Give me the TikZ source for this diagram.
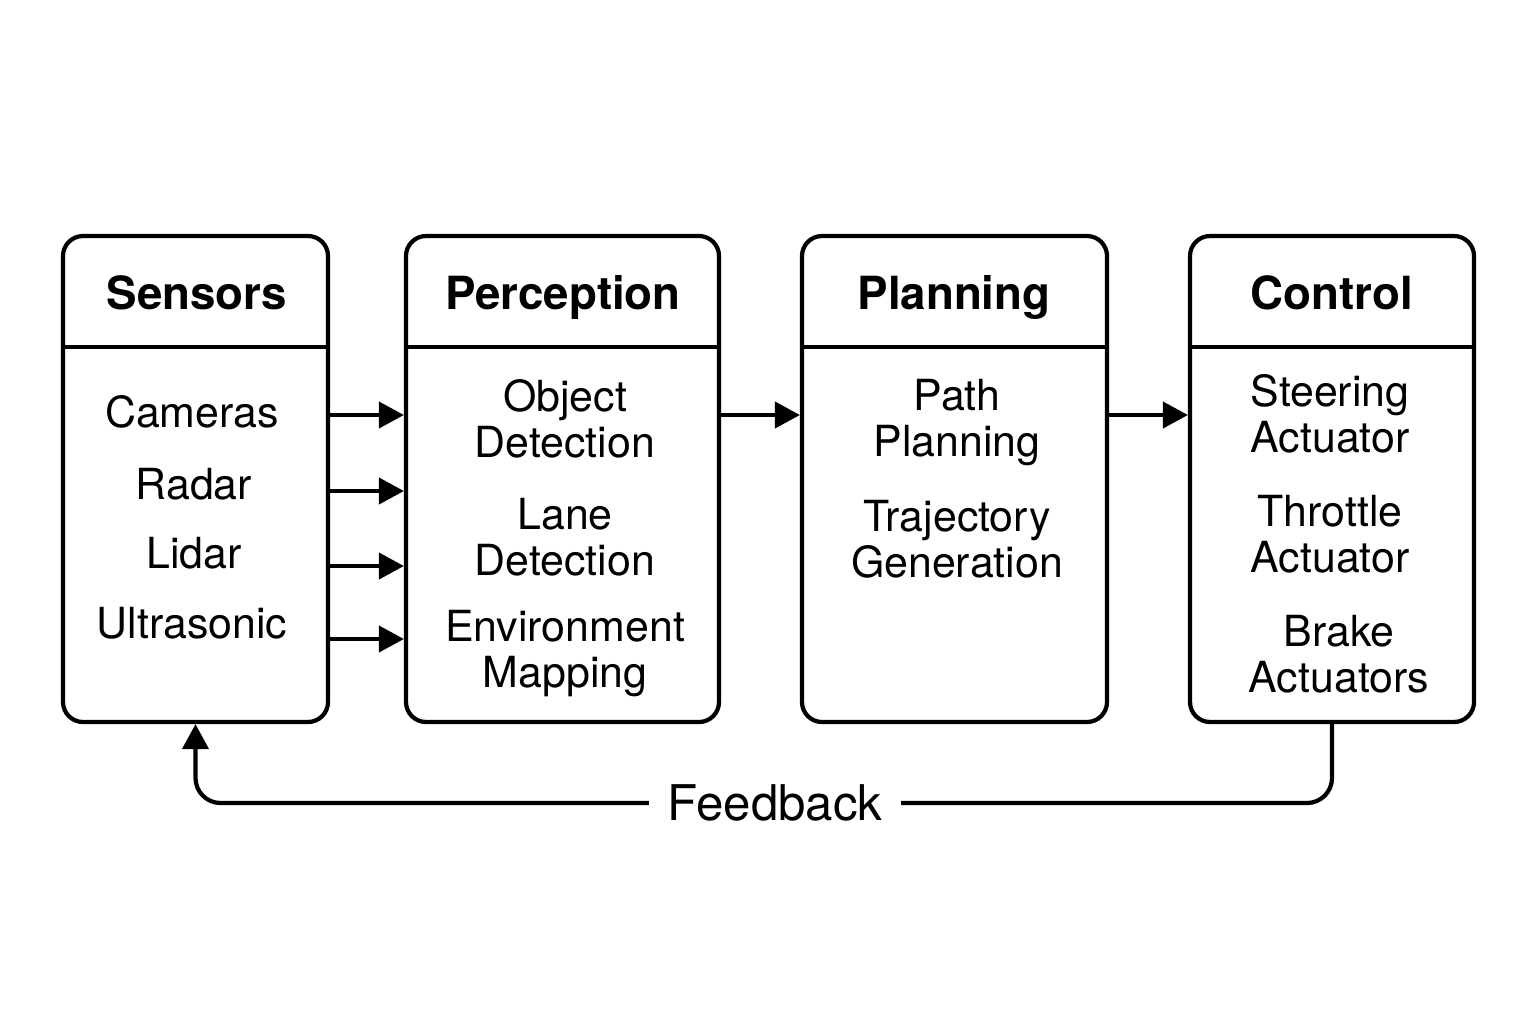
\documentclass[tikz,border=0pt]{standalone}
\usepackage{fontspec}
\setmainfont{TeX Gyre Heros}
\usetikzlibrary{arrows.meta}

\tikzset{
	bloque/.style = {draw, line width = 1.2pt, rounded corners = 0.2cm,
		minimum width = #1, minimum height = 4.86cm, inner sep = 0pt},
	titulo/.style = {anchor = base, font = \bfseries\fontsize{13}{15}\selectfont},
	item/.style = {align = center, inner sep = 0pt,
		font = \fontsize{12.2}{13.1}\selectfont},
	flecha/.style = {line width = 1.2pt,
		-{Triangle[length = 0.25cm, width = 0.26cm]}},
}

\begin{document}
\begin{tikzpicture}

	% márgenes del dibujo
	\useasboundingbox (0,0) rectangle (15.36,-10.24);

	% bloques con su cabecera
	\foreach \n/\x/\w/\t/\tx in {
		sensors/1.955/2.65/Sensors/1.97,
		perception/5.625/3.13/Perception/5.63,
		planning/9.545/3.05/Planning/9.54,
		control/13.32/2.84/Control/13.32}
	{
		\node[bloque = \w cm] (\n) at (\x,-4.79) {};
		\draw[line width = 1.2pt] (\n.west |- 0,-3.47) -- (\n.east |- 0,-3.47);
		\node[titulo] (\n-t) at (\tx,-3.09) {\t};
	}

	% sensores
	\node[item] (cam)   at (1.92,-4.12) {Cameras};
	\node[item] (radar) at (1.94,-4.84) {Radar};
	\node[item] (lidar) at (1.94,-5.53) {Lidar};
	\node[item] (ultra) at (1.92,-6.23) {Ultrasonic};

	% percepción
	\node[item] (objdet)  at (5.65,-4.19) {Object\\Detection};
	\node[item] (lanedet) at (5.65,-5.37) {Lane\\Detection};
	\node[item] (envmap)  at (5.65,-6.54) {Environment\\Mapping};

	% planificación
	\node[item] (path) at (9.57,-4.23) {Path\\Planning};
	\node[item] (traj) at (9.57,-5.39) {Trajectory\\Generation};

	% control
	\node[item] (steer)    at (13.30,-4.14) {Steering\\Actuator};
	\node[item] (throttle) at (13.30,-5.34) {Throttle\\Actuator};
	\node[item] (brake)    at (13.39,-6.54) {Brake\\Actuators};

	% flechas entre bloques
	\foreach \y in {-4.15,-4.91,-5.66,-6.39}
		\draw[flecha] (sensors.east |- 0,\y) -- (perception.west |- 0,\y);
	\draw[flecha] (perception.east |- 0,-4.15) -- (planning.west |- 0,-4.15);
	\draw[flecha] (planning.east |- 0,-4.15) -- (control.west |- 0,-4.15);

	% realimentación
	\coordinate (fb) at (7.75,-8.03);
	\draw[flecha, rounded corners = 0.25cm]
		(control.south) |- (fb) -| (sensors.south);
	\node[fill = white, inner xsep = 0.18cm,
		font = \fontsize{14}{16}\selectfont] (fbtxt) at (fb) {Feedback};

\end{tikzpicture}
\end{document}
